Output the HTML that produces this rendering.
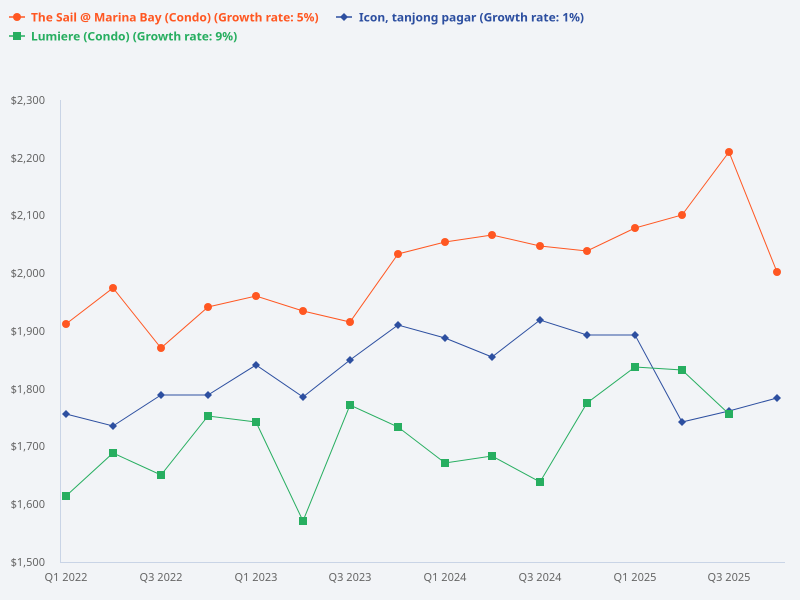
<!DOCTYPE html>
<html><head><meta charset="utf-8"><style>
html,body{margin:0;padding:0;background:#f2f4f7;}
svg{display:block;font-family:"Noto Sans","DejaVu Sans","Liberation Sans",sans-serif;}
</style></head><body>
<svg width="800" height="600" viewBox="0 0 800 600">
<rect width="800" height="600" fill="#f2f4f7"/>
<g font-size="12" font-weight="bold">
<line x1="9" y1="17" x2="25" y2="17" stroke="#ff5722" stroke-width="1.5"/><circle cx="17" cy="17" r="4" fill="#ff5722"/>
<text x="31" y="21.5" fill="#ff5722">The Sail @ Marina Bay (Condo) (Growth rate: 5%)</text>
<line x1="336" y1="17" x2="352" y2="17" stroke="#2d4fa0" stroke-width="1.5"/><path d="M344 13 L348 17 L344 21 L340 17Z" fill="#2d4fa0"/>
<text x="359" y="21.5" fill="#2d4fa0">Icon, tanjong pagar (Growth rate: 1%)</text>
<line x1="9" y1="36" x2="25" y2="36" stroke="#27ae60" stroke-width="1.5"/><rect x="13" y="32" width="8" height="8" fill="#27ae60"/>
<text x="31" y="40.5" fill="#27ae60">Lumiere (Condo) (Growth rate: 9%)</text>
</g>
<g stroke="#c9d4e6" stroke-width="1"><line x1="60.5" y1="100" x2="60.5" y2="562"/><line x1="60" y1="562.5" x2="785" y2="562.5"/></g>
<g font-size="11" fill="#666" text-anchor="end">
<text x="45" y="104">$2,300</text><text x="45" y="162">$2,200</text><text x="45" y="219">$2,100</text><text x="45" y="277">$2,000</text><text x="45" y="335">$1,900</text><text x="45" y="393">$1,800</text><text x="45" y="450">$1,700</text><text x="45" y="508">$1,600</text><text x="45" y="566">$1,500</text>
</g>
<g font-size="11" fill="#666" text-anchor="middle">
<text x="66" y="581">Q1 2022</text><text x="161" y="581">Q3 2022</text><text x="256" y="581">Q1 2023</text><text x="350" y="581">Q3 2023</text><text x="445" y="581">Q1 2024</text><text x="540" y="581">Q3 2024</text><text x="635" y="581">Q1 2025</text><text x="729" y="581">Q3 2025</text>
</g>
<polyline fill="none" stroke="#ff5722" stroke-width="1" points="66,324 113,288 161,348 208,307 256,296 303,311 350,322 398,254 445,242 492,235 540,246 587,251 635,228 682,215 729,152 777,272"/>
<g fill="#ff5722"><circle cx="66" cy="324" r="4"/><circle cx="113" cy="288" r="4"/><circle cx="161" cy="348" r="4"/><circle cx="208" cy="307" r="4"/><circle cx="256" cy="296" r="4"/><circle cx="303" cy="311" r="4"/><circle cx="350" cy="322" r="4"/><circle cx="398" cy="254" r="4"/><circle cx="445" cy="242" r="4"/><circle cx="492" cy="235" r="4"/><circle cx="540" cy="246" r="4"/><circle cx="587" cy="251" r="4"/><circle cx="635" cy="228" r="4"/><circle cx="682" cy="215" r="4"/><circle cx="729" cy="152" r="4"/><circle cx="777" cy="272" r="4"/></g>
<polyline fill="none" stroke="#2d4fa0" stroke-width="1" points="66,414 113,426 161,395 208,395 256,365 303,397 350,360 398,325 445,338 492,357 540,320 587,335 635,335 682,422 729,411 777,398"/>
<g fill="#2d4fa0">
<path d="M66 410l4 4-4 4-4-4z"/><path d="M113 422l4 4-4 4-4-4z"/><path d="M161 391l4 4-4 4-4-4z"/><path d="M208 391l4 4-4 4-4-4z"/><path d="M256 361l4 4-4 4-4-4z"/><path d="M303 393l4 4-4 4-4-4z"/><path d="M350 356l4 4-4 4-4-4z"/><path d="M398 321l4 4-4 4-4-4z"/><path d="M445 334l4 4-4 4-4-4z"/><path d="M492 353l4 4-4 4-4-4z"/><path d="M540 316l4 4-4 4-4-4z"/><path d="M587 331l4 4-4 4-4-4z"/><path d="M635 331l4 4-4 4-4-4z"/><path d="M682 418l4 4-4 4-4-4z"/><path d="M729 407l4 4-4 4-4-4z"/><path d="M777 394l4 4-4 4-4-4z"/></g>
<polyline fill="none" stroke="#27ae60" stroke-width="1" points="66,496 113,453 161,475 208,416 256,422 303,521 350,405 398,427 445,463 492,456 540,482 587,403 635,367 682,370 729,414"/>
<g fill="#27ae60"><rect x="62" y="492" width="8" height="8"/><rect x="109" y="449" width="8" height="8"/><rect x="157" y="471" width="8" height="8"/><rect x="204" y="412" width="8" height="8"/><rect x="252" y="418" width="8" height="8"/><rect x="299" y="517" width="8" height="8"/><rect x="346" y="401" width="8" height="8"/><rect x="394" y="423" width="8" height="8"/><rect x="441" y="459" width="8" height="8"/><rect x="488" y="452" width="8" height="8"/><rect x="536" y="478" width="8" height="8"/><rect x="583" y="399" width="8" height="8"/><rect x="631" y="363" width="8" height="8"/><rect x="678" y="366" width="8" height="8"/><rect x="725" y="410" width="8" height="8"/></g>
</svg>
</body></html>
